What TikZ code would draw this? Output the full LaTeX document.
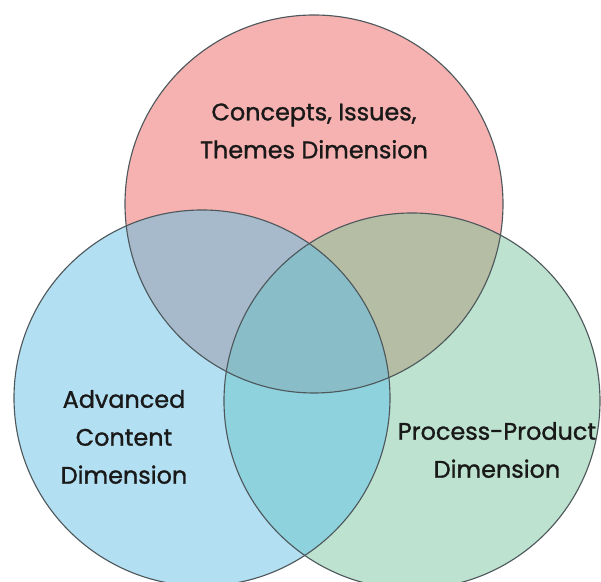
\documentclass[tikz,border=0pt]{standalone}
\usepackage{fontspec}
\newfontfamily\vennfont[FakeBold=1.2]{Poppins}
\definecolor{topred}{RGB}{246,178,176}
\definecolor{leftblue}{RGB}{179,223,242}
\definecolor{rightgreen}{RGB}{189,226,207}
\definecolor{redblue}{RGB}{166,186,203}
\definecolor{redgreen}{RGB}{182,189,165}
\definecolor{bluegreen}{RGB}{142,210,222}
\definecolor{allthree}{RGB}{137,189,200}
\definecolor{rim}{RGB}{78,88,92}
\tikzset{
  rimline/.style={draw=rim, line width=0.8pt},
  dimlabel/.style={align=center, font=\vennfont\fontsize{17}{27}\selectfont, text=black!90}
}
\begin{document}
\begin{tikzpicture}
    \useasboundingbox (0,0) rectangle (15.025,14.55);
    \coordinate (top) at (7.85,9.45);
    \coordinate (left) at (5.05,4.6);
    \coordinate (right) at (10.3,4.525);
    %circles
    \fill[topred] (top) circle (4.725);
    \fill[leftblue] (left) circle (4.7);
    \fill[rightgreen] (right) circle (4.7);
    %overlaps
    \begin{scope}
        \clip (top) circle (4.725);
        \fill[redblue] (left) circle (4.7);
        \fill[redgreen] (right) circle (4.7);
    \end{scope}
    \begin{scope}
        \clip (left) circle (4.7);
        \fill[bluegreen] (right) circle (4.7);
    \end{scope}
    \begin{scope}
        \clip (top) circle (4.725);
        \clip (left) circle (4.7);
        \fill[allthree] (right) circle (4.7);
    \end{scope}
    %outlines
    \draw[rimline] (top) circle (4.725);
    \draw[rimline] (left) circle (4.7);
    \draw[rimline] (right) circle (4.7);
    %labels
    \node[dimlabel] (concepts) at (7.85,11.275) {Concepts, Issues,\\Themes Dimension};
    \node[dimlabel] (advanced) at (3.1,3.625) {Advanced\\Content\\Dimension};
    \node[dimlabel] (process) at (12.425,3.3) {Process-Product\\Dimension};
\end{tikzpicture}
\end{document}
